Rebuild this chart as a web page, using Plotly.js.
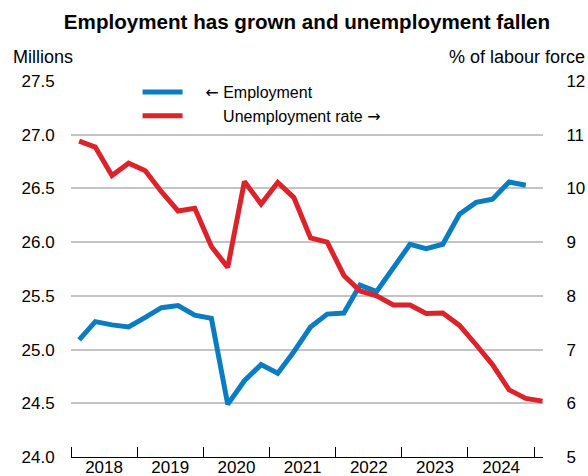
<!DOCTYPE html>
<html>
<head>
<meta charset="utf-8">
<script src="https://cdn.plot.ly/plotly-3.0.1.min.js"></script>
<style>
  html, body { margin: 0; padding: 0; background: #fff; }
  #chart { width: 588px; height: 476px; }
</style>
</head>
<body>
<div id="chart"></div>
<script>
// Quarter mid-points (dates)
const quarters = [
  '2018-02-15','2018-05-15','2018-08-15','2018-11-15',
  '2019-02-15','2019-05-15','2019-08-15','2019-11-15',
  '2020-02-15','2020-05-15','2020-08-15','2020-11-15',
  '2021-02-15','2021-05-15','2021-08-15','2021-11-15',
  '2022-02-15','2022-05-15','2022-08-15','2022-11-15',
  '2023-02-15','2023-05-15','2023-08-15','2023-11-15',
  '2024-02-15','2024-05-15','2024-08-15','2024-11-15',
  '2025-02-15'
];

// Employment, millions (2018Q1 - 2024Q4)
const employment = [
  25.09, 25.26, 25.23, 25.21,
  25.30, 25.39, 25.41, 25.32,
  25.29, 24.49, 24.71, 24.86,
  24.78, 24.98, 25.21, 25.33,
  25.34, 25.60, 25.54, 25.76,
  25.98, 25.94, 25.98, 26.26,
  26.37, 26.40, 26.56, 26.53
];

// Unemployment rate, % of labour force (2018Q1 - 2025Q1)
const unemployment = [
  10.88, 10.77, 10.24, 10.47,
  10.33, 9.94, 9.58, 9.63,
  8.92, 8.53, 10.13, 9.71,
  10.11, 9.83, 9.08, 9.00,
  8.38, 8.09, 8.00, 7.83,
  7.83, 7.67, 7.68, 7.45,
  7.09, 6.72, 6.25, 6.09,
  6.04
];

const leftTicks = [24.0, 24.5, 25.0, 25.5, 26.0, 26.5, 27.0, 27.5];
const rightTicks = [5, 6, 7, 8, 9, 10, 11, 12];

const FONT = 'Liberation Sans, Arial, sans-serif';
const BLUE = '#0a7cc1';
const RED = '#db232b';
const GRID = '#c4c4c4';

const ARROW_L = '<span style="font-family:DejaVu Sans">←</span>';
const ARROW_R = '<span style="font-family:DejaVu Sans">→</span>';

const traces = [
  {
    x: quarters.slice(0, employment.length),
    y: employment,
    type: 'scatter', mode: 'lines',
    name: '\u00a0\u00a0\u00a0\u00a0' + ARROW_L + ' Employment',
    legendgroup: 'a',
    line: { color: BLUE, width: 5 },
    yaxis: 'y'
  },
  {
    x: quarters,
    y: unemployment,
    type: 'scatter', mode: 'lines',
    name: '\u00a0\u00a0\u00a0\u00a0\u00a0\u00a0\u00a0\u00a0Unemployment rate ' + ARROW_R,
    legendgroup: 'b',
    line: { color: RED, width: 5 },
    yaxis: 'y2'
  }
];

const layout = {
  width: 588, height: 476,
  margin: { l: 71, r: 45, t: 81, b: 19, pad: 0 },
  paper_bgcolor: '#fff', plot_bgcolor: '#fff',
  font: { family: FONT, size: 17, color: '#000' },
  title: {
    text: '<b>Employment has grown and unemployment fallen</b>',
    font: { family: FONT, size: 20.6, color: '#000' },
    xref: 'paper', x: 0.5, xanchor: 'center',
    yref: 'container', y: 0.954, yanchor: 'middle'
  },
  showlegend: true,
  legend: {
    x: 0.141, y: 1.016, xanchor: 'left', yanchor: 'top',
    bgcolor: 'rgba(0,0,0,0)',
    font: { family: FONT, size: 16, color: '#000' },
    itemwidth: 40,
    traceorder: 'normal'
  },
  xaxis: {
    type: 'date',
    range: ['2018-01-01', '2025-02-18'],
    tick0: '2018-01-01', dtick: 'M12',
    tickformat: '%Y',
    ticklabelmode: 'period',
    ticklabelstandoff: -5,
    ticks: 'inside', ticklen: 10, tickcolor: '#000', tickwidth: 1,
    showline: true, linecolor: '#000', linewidth: 1,
    showgrid: false, zeroline: false,
    tickfont: { family: FONT, size: 17, color: '#000' },
    fixedrange: true
  },
  yaxis: {
    range: [24, 27.5],
    tick0: 24, dtick: 0.5,
    tickformat: '.1f',
    showgrid: true, gridcolor: GRID, gridwidth: 2,
    zeroline: false, showline: false,
    ticks: 'outside', ticklen: 12, tickcolor: 'rgba(0,0,0,0)',
    tickfont: { family: FONT, size: 17, color: '#000' },
    fixedrange: true
  },
  yaxis2: {
    range: [5, 12],
    tick0: 5, dtick: 1,
    overlaying: 'y', side: 'right',
    showgrid: false, zeroline: false, showline: false,
    ticks: 'outside', ticklen: 19, tickcolor: 'rgba(0,0,0,0)',
    tickfont: { family: FONT, size: 17, color: '#000' },
    fixedrange: true
  },
  annotations: [
    {
      text: 'Millions', xref: 'paper', yref: 'paper',
      x: -0.127, y: 1.064, xanchor: 'left', yanchor: 'middle',
      showarrow: false, font: { family: FONT, size: 18, color: '#000' }
    },
    {
      text: '% of labour force', xref: 'paper', yref: 'paper',
      x: 1.093, y: 1.064, xanchor: 'right', yanchor: 'middle',
      showarrow: false, font: { family: FONT, size: 18, color: '#000' }
    }
  ]
};

Plotly.newPlot('chart', traces, layout, { displayModeBar: false, staticPlot: true });
</script>
</body>
</html>
